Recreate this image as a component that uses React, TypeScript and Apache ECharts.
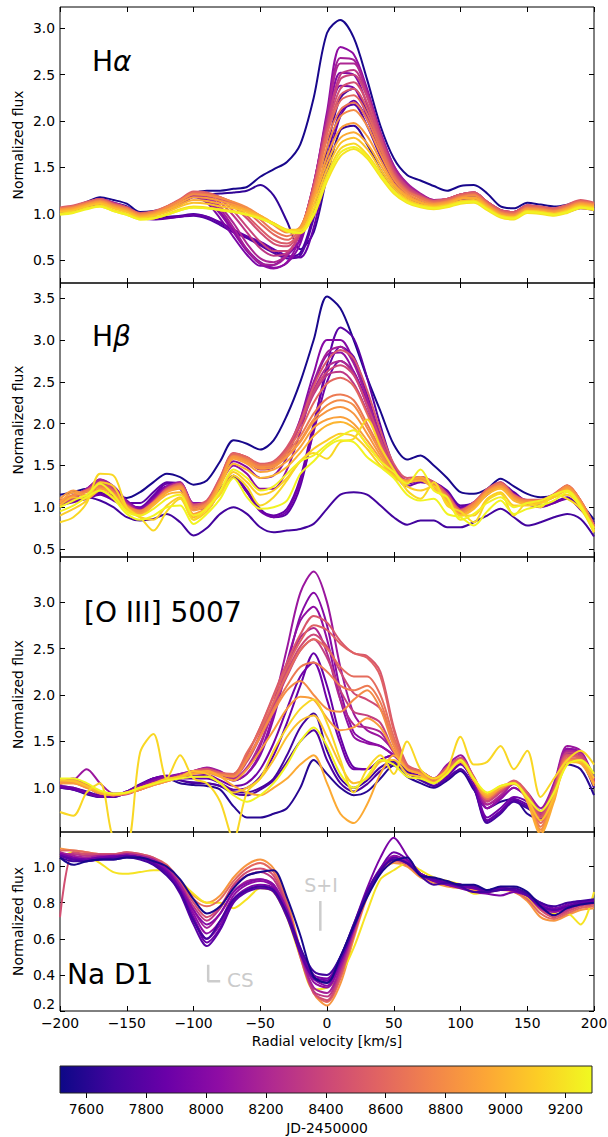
import React, { useEffect, useRef } from 'react';
import * as echarts from 'echarts';

// ---------------- data ----------------
const VELOCITY = [-200, -190, -180, -170, -160, -150, -140, -130, -120, -110, -100, -90, -80, -70, -60, -50, -40, -30, -20, -10, 0, 10, 20, 30, 40, 50, 60, 70, 80, 90, 100, 110, 120, 130, 140, 150, 160, 170, 180, 190, 200];

const HALPHA_JD = [7550, 7640, 7720, 7780, 7850, 7950, 8000, 8050, 8150, 8200, 8300, 8380, 8450, 8520, 8600, 8680, 8800, 8880, 8950, 9050, 9150, 9200, 9260];
const HALPHA_FLUX = [
  [1.06, 1.08, 1.13, 1.18, 1.15, 1.11, 1.02, 1.03, 1.06, 1.12, 1.22, 1.25, 1.25, 1.27, 1.29, 1.40, 1.48, 1.56, 1.75, 2.25, 2.95, 3.09, 2.90, 2.45, 1.95, 1.60, 1.42, 1.36, 1.30, 1.25, 1.30, 1.31, 1.22, 1.08, 1.06, 1.12, 1.10, 1.08, 1.10, 1.14, 1.09],
  [1.04, 1.06, 1.11, 1.16, 1.12, 1.08, 1.00, 1.01, 1.04, 1.10, 1.19, 1.21, 1.22, 1.23, 1.25, 1.31, 1.20, 0.92, 0.62, 0.80, 1.40, 1.90, 1.95, 1.75, 1.48, 1.28, 1.17, 1.12, 1.10, 1.13, 1.18, 1.18, 1.10, 1.02, 1.00, 1.06, 1.04, 1.02, 1.05, 1.08, 1.06],
  [1.03, 1.05, 1.09, 1.13, 1.09, 1.05, 0.98, 0.96, 0.97, 0.98, 1.00, 0.97, 0.90, 0.82, 0.75, 0.68, 0.60, 0.54, 0.58, 1.00, 1.70, 2.25, 2.35, 2.10, 1.72, 1.40, 1.22, 1.13, 1.09, 1.11, 1.17, 1.18, 1.09, 1.01, 1.00, 1.06, 1.04, 1.01, 1.04, 1.08, 1.06],
  [1.02, 1.04, 1.08, 1.12, 1.08, 1.04, 0.97, 0.95, 0.96, 0.97, 0.98, 0.95, 0.88, 0.80, 0.74, 0.66, 0.58, 0.52, 0.55, 0.95, 1.60, 2.10, 2.18, 1.95, 1.62, 1.34, 1.20, 1.12, 1.08, 1.10, 1.16, 1.17, 1.08, 1.00, 0.99, 1.05, 1.03, 1.00, 1.03, 1.07, 1.05],
  [1.01, 1.03, 1.07, 1.11, 1.07, 1.03, 0.96, 0.94, 0.95, 0.97, 0.99, 0.97, 0.91, 0.83, 0.76, 0.70, 0.62, 0.55, 0.53, 0.85, 1.50, 2.05, 2.22, 2.02, 1.66, 1.36, 1.20, 1.11, 1.07, 1.09, 1.15, 1.16, 1.07, 0.99, 0.98, 1.04, 1.02, 0.99, 1.02, 1.06, 1.04],
  [1.03, 1.05, 1.10, 1.15, 1.10, 1.06, 0.99, 1.00, 1.04, 1.10, 1.18, 1.12, 0.95, 0.75, 0.56, 0.44, 0.45, 0.55, 0.72, 1.20, 1.88, 2.38, 2.36, 2.05, 1.70, 1.42, 1.26, 1.17, 1.12, 1.13, 1.19, 1.20, 1.10, 1.01, 1.00, 1.06, 1.04, 1.01, 1.05, 1.09, 1.06],
  [1.04, 1.06, 1.10, 1.15, 1.10, 1.06, 0.99, 1.00, 1.05, 1.11, 1.19, 1.15, 1.02, 0.82, 0.62, 0.48, 0.42, 0.47, 0.68, 1.22, 1.95, 2.52, 2.50, 2.18, 1.78, 1.46, 1.29, 1.19, 1.13, 1.14, 1.19, 1.21, 1.11, 1.02, 1.01, 1.07, 1.05, 1.03, 1.06, 1.11, 1.07],
  [1.04, 1.06, 1.11, 1.16, 1.11, 1.07, 1.00, 1.01, 1.05, 1.12, 1.20, 1.14, 1.00, 0.80, 0.60, 0.46, 0.41, 0.48, 0.75, 1.30, 2.10, 2.80, 2.72, 2.35, 1.88, 1.52, 1.32, 1.21, 1.15, 1.15, 1.20, 1.22, 1.12, 1.03, 1.02, 1.08, 1.06, 1.04, 1.07, 1.12, 1.08],
  [1.05, 1.07, 1.12, 1.16, 1.12, 1.07, 1.00, 1.02, 1.06, 1.13, 1.21, 1.17, 1.05, 0.85, 0.62, 0.47, 0.45, 0.55, 0.80, 1.32, 2.05, 2.68, 2.66, 2.32, 1.88, 1.52, 1.33, 1.22, 1.15, 1.16, 1.21, 1.23, 1.13, 1.04, 1.02, 1.09, 1.07, 1.04, 1.08, 1.13, 1.09],
  [1.05, 1.07, 1.12, 1.16, 1.12, 1.07, 1.00, 1.02, 1.06, 1.14, 1.22, 1.19, 1.08, 0.90, 0.68, 0.52, 0.48, 0.56, 0.80, 1.32, 2.02, 2.62, 2.62, 2.30, 1.86, 1.50, 1.31, 1.21, 1.15, 1.16, 1.21, 1.23, 1.13, 1.04, 1.02, 1.09, 1.07, 1.05, 1.08, 1.13, 1.10],
  [1.05, 1.07, 1.12, 1.16, 1.11, 1.07, 1.00, 1.02, 1.07, 1.14, 1.22, 1.20, 1.12, 0.98, 0.80, 0.63, 0.55, 0.58, 0.80, 1.32, 1.98, 2.50, 2.55, 2.28, 1.85, 1.48, 1.30, 1.20, 1.14, 1.15, 1.20, 1.22, 1.12, 1.03, 1.01, 1.08, 1.06, 1.04, 1.08, 1.13, 1.10],
  [1.06, 1.08, 1.12, 1.16, 1.11, 1.07, 1.00, 1.02, 1.07, 1.15, 1.23, 1.21, 1.15, 1.03, 0.86, 0.70, 0.60, 0.60, 0.80, 1.30, 1.95, 2.45, 2.50, 2.26, 1.84, 1.47, 1.29, 1.20, 1.14, 1.16, 1.21, 1.23, 1.13, 1.04, 1.02, 1.09, 1.07, 1.05, 1.09, 1.14, 1.11],
  [1.06, 1.08, 1.12, 1.15, 1.10, 1.06, 1.00, 1.02, 1.07, 1.15, 1.23, 1.22, 1.17, 1.08, 0.95, 0.80, 0.68, 0.65, 0.82, 1.30, 1.92, 2.35, 2.42, 2.20, 1.80, 1.45, 1.27, 1.19, 1.14, 1.16, 1.21, 1.23, 1.13, 1.04, 1.02, 1.09, 1.07, 1.05, 1.09, 1.14, 1.11],
  [1.07, 1.09, 1.13, 1.16, 1.11, 1.07, 1.01, 1.03, 1.08, 1.16, 1.24, 1.23, 1.18, 1.10, 0.98, 0.84, 0.72, 0.68, 0.82, 1.28, 1.88, 2.28, 2.35, 2.14, 1.76, 1.43, 1.26, 1.18, 1.14, 1.16, 1.21, 1.23, 1.13, 1.04, 1.02, 1.09, 1.08, 1.06, 1.10, 1.15, 1.12],
  [1.06, 1.08, 1.12, 1.15, 1.10, 1.06, 1.00, 1.02, 1.08, 1.15, 1.23, 1.22, 1.18, 1.12, 1.03, 0.90, 0.78, 0.72, 0.84, 1.28, 1.86, 2.22, 2.28, 2.08, 1.74, 1.42, 1.25, 1.18, 1.13, 1.15, 1.20, 1.22, 1.12, 1.03, 1.01, 1.08, 1.07, 1.05, 1.09, 1.14, 1.11],
  [1.06, 1.08, 1.12, 1.15, 1.10, 1.06, 1.00, 1.02, 1.08, 1.15, 1.22, 1.21, 1.18, 1.12, 1.05, 0.94, 0.82, 0.76, 0.85, 1.25, 1.80, 2.12, 2.20, 2.02, 1.70, 1.40, 1.24, 1.17, 1.12, 1.14, 1.19, 1.21, 1.11, 1.02, 1.00, 1.07, 1.06, 1.04, 1.08, 1.13, 1.11],
  [1.05, 1.07, 1.11, 1.14, 1.09, 1.05, 0.99, 1.01, 1.07, 1.14, 1.21, 1.20, 1.17, 1.13, 1.07, 0.98, 0.88, 0.80, 0.86, 1.22, 1.72, 2.05, 2.12, 1.95, 1.65, 1.37, 1.22, 1.15, 1.11, 1.13, 1.18, 1.20, 1.10, 1.01, 0.99, 1.06, 1.05, 1.03, 1.07, 1.12, 1.10],
  [1.04, 1.06, 1.10, 1.13, 1.08, 1.04, 0.98, 1.00, 1.05, 1.12, 1.18, 1.17, 1.14, 1.10, 1.05, 0.98, 0.89, 0.81, 0.85, 1.18, 1.62, 1.92, 1.98, 1.84, 1.58, 1.33, 1.20, 1.13, 1.10, 1.12, 1.17, 1.18, 1.09, 1.00, 0.98, 1.05, 1.04, 1.02, 1.06, 1.11, 1.09],
  [1.03, 1.05, 1.09, 1.12, 1.07, 1.03, 0.97, 0.99, 1.04, 1.10, 1.15, 1.14, 1.11, 1.08, 1.04, 0.98, 0.90, 0.82, 0.84, 1.15, 1.55, 1.82, 1.88, 1.76, 1.53, 1.31, 1.18, 1.12, 1.09, 1.11, 1.16, 1.17, 1.08, 0.99, 0.97, 1.04, 1.03, 1.01, 1.05, 1.10, 1.08],
  [1.02, 1.04, 1.08, 1.11, 1.06, 1.02, 0.96, 0.98, 1.02, 1.08, 1.12, 1.11, 1.08, 1.06, 1.02, 0.97, 0.90, 0.83, 0.83, 1.10, 1.48, 1.76, 1.82, 1.70, 1.48, 1.28, 1.16, 1.10, 1.08, 1.10, 1.14, 1.15, 1.07, 0.98, 0.96, 1.03, 1.02, 1.00, 1.04, 1.09, 1.07],
  [1.00, 1.02, 1.06, 1.09, 1.04, 1.00, 0.95, 0.96, 1.00, 1.05, 1.08, 1.07, 1.05, 1.03, 1.00, 0.96, 0.90, 0.83, 0.82, 1.05, 1.42, 1.70, 1.76, 1.64, 1.44, 1.25, 1.14, 1.09, 1.07, 1.09, 1.13, 1.14, 1.06, 0.98, 0.96, 1.03, 1.02, 1.00, 1.03, 1.08, 1.06],
  [1.00, 1.02, 1.06, 1.08, 1.03, 0.99, 0.94, 0.95, 0.99, 1.04, 1.07, 1.06, 1.04, 1.02, 0.99, 0.95, 0.89, 0.81, 0.79, 0.98, 1.35, 1.62, 1.70, 1.60, 1.40, 1.22, 1.12, 1.07, 1.05, 1.07, 1.11, 1.12, 1.04, 0.96, 0.94, 1.01, 1.00, 0.98, 1.01, 1.06, 1.04],
  [0.99, 1.01, 1.05, 1.08, 1.03, 0.99, 0.94, 0.95, 0.99, 1.04, 1.07, 1.06, 1.04, 1.02, 0.99, 0.95, 0.89, 0.82, 0.80, 1.00, 1.38, 1.66, 1.72, 1.62, 1.42, 1.24, 1.13, 1.08, 1.06, 1.08, 1.12, 1.13, 1.05, 0.97, 0.95, 1.02, 1.01, 0.99, 1.02, 1.07, 1.05],
];

const HBETA_JD = [7550, 7700, 7800, 7850, 7900, 8000, 8050, 8150, 8220, 8300, 8400, 8500, 8600, 8700, 8800, 8850, 8900, 9000, 9100, 9150, 9250, 9270];
const HBETA_FLUX = [
  [1.15, 1.18, 1.22, 1.19, 1.14, 1.11, 1.18, 1.30, 1.40, 1.36, 1.27, 1.32, 1.55, 1.80, 1.76, 1.69, 1.80, 2.10, 2.50, 3.00, 3.52, 3.38, 3.00, 2.55, 2.15, 1.75, 1.57, 1.62, 1.50, 1.35, 1.18, 1.16, 1.22, 1.34, 1.25, 1.16, 1.12, 1.14, 1.22, 1.05, 0.85],
  [1.08, 1.10, 1.12, 1.08, 1.00, 0.88, 0.84, 0.86, 0.92, 0.82, 0.66, 0.75, 0.92, 1.00, 0.92, 0.76, 0.70, 0.72, 0.74, 0.80, 0.98, 1.15, 1.18, 1.15, 1.02, 0.88, 0.79, 0.84, 0.84, 0.76, 0.76, 0.82, 0.90, 0.98, 0.88, 0.78, 0.82, 0.88, 0.92, 0.86, 0.65],
  [1.05, 1.08, 1.12, 1.18, 1.12, 1.05, 1.05, 1.18, 1.30, 1.28, 1.02, 1.00, 1.22, 1.38, 1.20, 0.98, 0.88, 0.92, 1.25, 1.95, 2.70, 3.15, 3.02, 2.55, 1.98, 1.50, 1.30, 1.35, 1.30, 1.20, 1.02, 1.05, 1.18, 1.28, 1.18, 1.06, 1.02, 1.06, 1.12, 0.98, 0.82],
  [1.04, 1.07, 1.11, 1.16, 1.10, 1.02, 1.00, 1.14, 1.28, 1.25, 1.00, 0.99, 1.20, 1.37, 1.18, 0.96, 0.90, 0.98, 1.35, 2.00, 2.62, 2.92, 2.80, 2.35, 1.85, 1.45, 1.28, 1.32, 1.28, 1.18, 1.00, 1.04, 1.16, 1.26, 1.16, 1.05, 1.01, 1.05, 1.11, 0.98, 0.80],
  [1.02, 1.06, 1.10, 1.15, 1.08, 1.00, 0.98, 1.12, 1.25, 1.22, 0.98, 0.98, 1.20, 1.36, 1.18, 0.95, 0.88, 0.95, 1.30, 1.90, 2.50, 2.75, 2.62, 2.25, 1.80, 1.42, 1.25, 1.30, 1.26, 1.15, 0.98, 1.02, 1.15, 1.25, 1.15, 1.04, 1.00, 1.05, 1.10, 0.97, 0.80],
  [1.06, 1.12, 1.22, 1.32, 1.25, 1.08, 0.98, 1.10, 1.25, 1.30, 1.05, 1.05, 1.30, 1.55, 1.48, 1.35, 1.38, 1.60, 2.05, 2.60, 3.00, 3.00, 2.75, 2.30, 1.85, 1.48, 1.32, 1.36, 1.30, 1.18, 0.98, 1.06, 1.20, 1.30, 1.16, 1.08, 1.08, 1.14, 1.22, 1.05, 0.78],
  [1.05, 1.12, 1.22, 1.33, 1.24, 1.06, 0.97, 1.09, 1.24, 1.29, 1.03, 1.04, 1.28, 1.50, 1.40, 1.22, 1.22, 1.45, 1.90, 2.45, 2.82, 2.85, 2.62, 2.22, 1.80, 1.46, 1.31, 1.35, 1.29, 1.17, 0.97, 1.05, 1.19, 1.29, 1.15, 1.08, 1.08, 1.14, 1.23, 1.05, 0.77],
  [1.05, 1.12, 1.22, 1.33, 1.25, 1.06, 0.96, 1.08, 1.24, 1.30, 1.04, 1.06, 1.32, 1.60, 1.55, 1.45, 1.48, 1.68, 2.05, 2.50, 2.85, 2.92, 2.72, 2.30, 1.85, 1.48, 1.32, 1.35, 1.28, 1.15, 0.96, 1.05, 1.20, 1.28, 1.14, 1.08, 1.08, 1.15, 1.24, 1.06, 0.76],
  [1.05, 1.11, 1.21, 1.32, 1.23, 1.05, 0.96, 1.07, 1.23, 1.29, 1.03, 1.06, 1.33, 1.62, 1.56, 1.46, 1.48, 1.66, 2.00, 2.40, 2.68, 2.75, 2.60, 2.22, 1.80, 1.46, 1.31, 1.34, 1.27, 1.14, 0.96, 1.05, 1.19, 1.28, 1.14, 1.08, 1.08, 1.15, 1.24, 1.06, 0.76],
  [1.04, 1.10, 1.20, 1.30, 1.22, 1.04, 0.95, 1.06, 1.22, 1.28, 1.02, 1.05, 1.32, 1.62, 1.58, 1.48, 1.50, 1.68, 1.98, 2.35, 2.58, 2.62, 2.48, 2.15, 1.78, 1.45, 1.30, 1.33, 1.26, 1.13, 0.95, 1.04, 1.18, 1.27, 1.13, 1.07, 1.08, 1.15, 1.25, 1.06, 0.75],
  [1.05, 1.11, 1.20, 1.29, 1.21, 1.03, 0.95, 1.06, 1.22, 1.28, 1.02, 1.07, 1.35, 1.64, 1.60, 1.50, 1.53, 1.70, 2.00, 2.38, 2.62, 2.70, 2.58, 2.22, 1.82, 1.47, 1.32, 1.35, 1.28, 1.14, 0.96, 1.05, 1.20, 1.28, 1.14, 1.08, 1.08, 1.15, 1.25, 1.07, 0.77],
  [1.06, 1.12, 1.20, 1.28, 1.20, 1.03, 0.95, 1.06, 1.22, 1.28, 1.03, 1.08, 1.36, 1.65, 1.60, 1.52, 1.55, 1.72, 2.02, 2.45, 2.75, 2.88, 2.78, 2.40, 1.92, 1.52, 1.35, 1.36, 1.30, 1.16, 0.97, 1.06, 1.22, 1.30, 1.15, 1.09, 1.09, 1.16, 1.26, 1.08, 0.78],
  [1.07, 1.13, 1.20, 1.27, 1.19, 1.02, 0.95, 1.06, 1.21, 1.27, 1.01, 1.06, 1.34, 1.64, 1.60, 1.51, 1.54, 1.68, 1.92, 2.25, 2.48, 2.55, 2.45, 2.12, 1.75, 1.44, 1.31, 1.34, 1.28, 1.14, 0.96, 1.05, 1.21, 1.29, 1.14, 1.08, 1.08, 1.15, 1.26, 1.08, 0.78],
  [1.08, 1.15, 1.20, 1.25, 1.18, 1.02, 0.96, 1.06, 1.20, 1.26, 1.00, 1.05, 1.32, 1.62, 1.58, 1.50, 1.52, 1.65, 1.85, 2.12, 2.30, 2.35, 2.28, 2.00, 1.70, 1.42, 1.30, 1.33, 1.27, 1.13, 0.95, 1.05, 1.20, 1.28, 1.14, 1.08, 1.08, 1.15, 1.26, 1.08, 0.78],
  [1.07, 1.14, 1.18, 1.24, 1.17, 1.01, 0.95, 1.05, 1.19, 1.25, 0.98, 1.04, 1.31, 1.61, 1.56, 1.48, 1.50, 1.62, 1.80, 2.05, 2.22, 2.28, 2.22, 1.95, 1.66, 1.40, 1.30, 1.33, 1.26, 1.12, 0.93, 1.03, 1.19, 1.26, 1.12, 1.07, 1.07, 1.14, 1.25, 1.07, 0.76],
  [1.10, 1.20, 1.15, 1.22, 1.16, 1.00, 0.93, 1.04, 1.18, 1.24, 0.96, 1.02, 1.30, 1.60, 1.54, 1.46, 1.48, 1.60, 1.78, 2.02, 2.15, 2.20, 2.12, 1.88, 1.62, 1.40, 1.31, 1.35, 1.26, 1.11, 0.92, 1.02, 1.18, 1.25, 1.11, 1.06, 1.07, 1.13, 1.24, 1.06, 0.75],
  [1.05, 1.18, 1.12, 1.22, 1.15, 1.00, 0.92, 1.05, 1.18, 1.22, 0.92, 1.00, 1.28, 1.58, 1.52, 1.42, 1.45, 1.55, 1.72, 1.95, 2.05, 2.08, 2.00, 1.80, 1.58, 1.38, 1.32, 1.36, 1.25, 1.10, 0.90, 1.00, 1.18, 1.24, 1.10, 1.05, 1.06, 1.12, 1.22, 1.05, 0.74],
  [1.02, 1.12, 1.10, 1.20, 1.12, 0.98, 0.90, 1.02, 1.15, 1.18, 0.88, 0.98, 1.25, 1.52, 1.45, 1.35, 1.38, 1.48, 1.65, 1.85, 1.98, 2.02, 1.95, 1.75, 1.55, 1.36, 1.30, 1.32, 1.22, 1.08, 0.90, 0.98, 1.15, 1.22, 1.08, 1.04, 1.05, 1.12, 1.20, 1.04, 0.72],
  [0.90, 0.98, 1.08, 1.30, 1.25, 0.98, 0.88, 0.85, 1.02, 1.12, 0.85, 0.95, 1.18, 1.42, 1.30, 1.15, 1.20, 1.35, 1.55, 1.70, 1.80, 1.88, 1.85, 1.70, 1.50, 1.38, 1.25, 1.20, 1.25, 1.05, 0.90, 0.90, 1.10, 1.18, 1.02, 1.02, 1.05, 1.12, 1.15, 1.00, 0.70],
  [0.82, 0.88, 1.05, 1.40, 1.38, 1.00, 0.88, 0.72, 0.95, 1.10, 0.85, 1.00, 1.15, 1.38, 1.25, 1.02, 1.12, 1.32, 1.55, 1.65, 1.58, 1.78, 1.82, 2.05, 1.72, 1.45, 1.20, 1.10, 1.30, 1.02, 0.95, 0.82, 1.08, 1.16, 0.90, 1.05, 1.00, 1.15, 1.10, 0.98, 0.70],
  [1.00, 1.08, 1.15, 1.28, 1.15, 0.95, 0.90, 0.98, 1.10, 1.15, 0.90, 0.98, 1.20, 1.45, 1.35, 1.20, 1.25, 1.40, 1.55, 1.62, 1.75, 1.85, 1.92, 1.75, 1.55, 1.42, 1.28, 1.45, 1.20, 1.12, 0.85, 0.92, 1.05, 1.12, 1.00, 1.05, 1.08, 1.15, 1.20, 1.02, 0.72],
  [0.95, 1.02, 1.12, 1.20, 1.10, 0.92, 0.85, 0.90, 1.00, 1.02, 0.80, 0.92, 1.10, 1.35, 1.12, 0.98, 1.00, 1.08, 1.40, 1.55, 1.72, 1.80, 1.78, 1.60, 1.48, 1.35, 1.15, 1.08, 1.10, 0.92, 0.88, 0.78, 0.95, 1.08, 0.92, 0.98, 1.02, 1.08, 1.18, 1.00, 0.75],
];

const OIII_JD = [7600, 7700, 7750, 7850, 7900, 8000, 8050, 8100, 8200, 8350, 8420, 8500, 8560, 8620, 8700, 8800, 8880, 8950, 9050, 9150, 9270];
const OIII_FLUX = [
  [1.00, 0.98, 0.93, 0.90, 0.90, 0.95, 1.02, 1.08, 1.10, 1.05, 1.03, 1.02, 0.98, 0.80, 0.68, 0.68, 0.72, 0.78, 1.00, 1.30, 1.15, 1.00, 0.92, 0.96, 1.10, 1.24, 1.12, 1.05, 1.00, 1.08, 1.18, 0.98, 0.78, 0.85, 0.88, 0.72, 0.66, 0.95, 1.25, 1.20, 0.92],
  [1.02, 1.00, 0.96, 0.92, 0.92, 0.96, 1.04, 1.10, 1.12, 1.08, 1.05, 1.05, 1.02, 0.96, 0.95, 1.00, 1.10, 1.35, 1.65, 1.80, 1.40, 1.10, 1.00, 1.08, 1.22, 1.28, 1.18, 1.10, 1.02, 1.10, 1.20, 1.00, 0.62, 0.72, 0.85, 0.78, 0.70, 1.00, 1.38, 1.30, 1.00],
  [1.01, 0.99, 0.95, 0.91, 0.91, 0.96, 1.03, 1.10, 1.12, 1.08, 1.06, 1.05, 1.02, 0.94, 0.92, 0.98, 1.08, 1.28, 1.50, 1.62, 1.30, 1.05, 0.96, 1.04, 1.18, 1.26, 1.16, 1.08, 1.02, 1.10, 1.20, 1.00, 0.64, 0.74, 0.86, 0.80, 0.70, 1.00, 1.38, 1.32, 1.02],
  [1.00, 0.98, 0.94, 0.90, 0.90, 0.95, 1.03, 1.10, 1.13, 1.10, 1.10, 1.10, 1.05, 0.98, 1.00, 1.12, 1.35, 1.70, 2.10, 2.45, 2.10, 1.55, 1.22, 1.20, 1.30, 1.35, 1.20, 1.12, 1.05, 1.12, 1.25, 1.05, 0.65, 0.75, 0.88, 0.82, 0.72, 1.00, 1.40, 1.35, 1.05],
  [1.02, 1.00, 0.95, 0.91, 0.91, 0.95, 1.03, 1.10, 1.13, 1.12, 1.13, 1.14, 1.08, 1.02, 1.05, 1.20, 1.48, 1.85, 2.20, 2.35, 1.95, 1.48, 1.20, 1.20, 1.30, 1.35, 1.20, 1.12, 1.05, 1.14, 1.26, 1.05, 0.68, 0.78, 0.90, 0.85, 0.72, 1.00, 1.42, 1.36, 1.05],
  [1.05, 1.10, 1.02, 0.93, 0.92, 0.96, 1.02, 1.08, 1.12, 1.15, 1.18, 1.20, 1.15, 1.08, 1.15, 1.35, 1.75, 2.30, 2.85, 3.10, 2.75, 2.05, 1.60, 1.50, 1.45, 1.35, 1.22, 1.16, 1.08, 1.22, 1.30, 1.08, 0.78, 0.88, 1.00, 0.90, 0.75, 1.02, 1.42, 1.38, 1.08],
  [1.04, 1.08, 1.03, 0.94, 0.92, 0.95, 1.01, 1.07, 1.11, 1.14, 1.17, 1.20, 1.15, 1.08, 1.15, 1.38, 1.80, 2.35, 2.80, 2.95, 2.60, 1.95, 1.55, 1.48, 1.45, 1.35, 1.22, 1.16, 1.08, 1.22, 1.30, 1.08, 0.78, 0.88, 1.00, 0.90, 0.74, 1.02, 1.42, 1.38, 1.08],
  [1.05, 1.08, 1.20, 1.05, 0.94, 0.95, 1.00, 1.06, 1.10, 1.15, 1.18, 1.22, 1.18, 1.10, 1.20, 1.45, 1.90, 2.50, 3.10, 3.33, 3.00, 2.30, 1.80, 1.62, 1.55, 1.40, 1.22, 1.18, 1.10, 1.25, 1.35, 1.10, 0.82, 0.90, 1.05, 0.95, 0.78, 1.05, 1.45, 1.40, 1.10],
  [1.05, 1.07, 1.03, 0.95, 0.93, 0.94, 0.99, 1.05, 1.09, 1.13, 1.18, 1.21, 1.17, 1.10, 1.22, 1.48, 1.85, 2.28, 2.62, 2.72, 2.45, 1.95, 1.68, 1.65, 1.60, 1.38, 1.22, 1.17, 1.09, 1.23, 1.32, 1.10, 0.82, 0.92, 1.04, 0.94, 0.74, 1.02, 1.40, 1.37, 1.08],
  [1.05, 1.06, 1.02, 0.94, 0.92, 0.93, 0.98, 1.04, 1.08, 1.12, 1.18, 1.20, 1.15, 1.12, 1.28, 1.55, 1.88, 2.20, 2.48, 2.60, 2.40, 2.05, 1.82, 1.78, 1.70, 1.40, 1.22, 1.18, 1.10, 1.22, 1.30, 1.10, 0.85, 0.95, 1.05, 0.95, 0.72, 1.00, 1.38, 1.36, 1.08],
  [1.06, 1.07, 1.03, 0.95, 0.93, 0.94, 0.98, 1.04, 1.08, 1.13, 1.18, 1.20, 1.16, 1.13, 1.30, 1.58, 1.92, 2.25, 2.52, 2.65, 2.52, 2.25, 2.02, 1.95, 1.85, 1.50, 1.23, 1.18, 1.10, 1.22, 1.31, 1.11, 0.86, 0.96, 1.06, 0.94, 0.70, 0.99, 1.36, 1.34, 1.07],
  [1.08, 1.08, 1.03, 0.95, 0.93, 0.94, 0.98, 1.04, 1.08, 1.13, 1.18, 1.20, 1.16, 1.15, 1.35, 1.65, 2.00, 2.35, 2.65, 2.85, 2.78, 2.58, 2.45, 2.42, 2.25, 1.65, 1.25, 1.18, 1.10, 1.22, 1.32, 1.12, 0.88, 0.98, 1.08, 0.95, 0.68, 0.98, 1.35, 1.32, 1.05],
  [1.07, 1.07, 1.03, 0.95, 0.93, 0.94, 0.98, 1.04, 1.08, 1.13, 1.17, 1.19, 1.16, 1.15, 1.36, 1.65, 1.98, 2.30, 2.58, 2.75, 2.70, 2.55, 2.45, 2.40, 2.20, 1.62, 1.24, 1.18, 1.09, 1.21, 1.31, 1.11, 0.88, 0.98, 1.07, 0.93, 0.65, 0.96, 1.34, 1.31, 1.05],
  [1.06, 1.06, 1.02, 0.95, 0.93, 0.94, 0.98, 1.04, 1.08, 1.13, 1.17, 1.18, 1.15, 1.15, 1.38, 1.62, 1.92, 2.22, 2.48, 2.60, 2.50, 2.30, 2.20, 2.20, 2.00, 1.55, 1.22, 1.17, 1.08, 1.20, 1.30, 1.10, 0.88, 0.98, 1.06, 0.92, 0.62, 0.95, 1.32, 1.30, 1.05],
  [1.06, 1.06, 1.01, 0.94, 0.92, 0.94, 0.98, 1.03, 1.07, 1.12, 1.16, 1.18, 1.14, 1.13, 1.32, 1.56, 1.85, 2.10, 2.30, 2.35, 2.25, 2.10, 2.05, 2.10, 1.92, 1.50, 1.21, 1.16, 1.07, 1.19, 1.29, 1.09, 0.89, 0.99, 1.05, 0.90, 0.58, 0.92, 1.31, 1.29, 1.05],
  [1.05, 1.05, 1.00, 0.94, 0.92, 0.94, 0.98, 1.03, 1.07, 1.12, 1.16, 1.18, 1.14, 1.12, 1.30, 1.55, 1.82, 2.05, 2.15, 2.00, 1.85, 1.82, 1.95, 2.05, 1.85, 1.45, 1.20, 1.15, 1.06, 1.18, 1.28, 1.08, 0.90, 1.00, 1.05, 0.88, 0.55, 0.90, 1.30, 1.28, 1.05],
  [1.05, 1.05, 1.00, 0.94, 0.92, 0.94, 0.98, 1.03, 1.07, 1.11, 1.15, 1.16, 1.12, 1.08, 1.20, 1.40, 1.62, 1.85, 1.98, 1.95, 1.75, 1.62, 1.65, 1.75, 1.65, 1.40, 1.20, 1.15, 1.06, 1.18, 1.28, 1.08, 0.90, 1.00, 1.05, 0.87, 0.53, 0.88, 1.29, 1.27, 1.04],
  [1.08, 1.08, 1.02, 0.95, 0.93, 0.95, 1.00, 1.05, 1.08, 1.12, 1.15, 1.18, 1.12, 1.02, 0.95, 0.92, 1.00, 1.10, 1.25, 1.35, 1.05, 0.72, 0.62, 0.82, 1.15, 1.35, 1.20, 1.15, 1.05, 1.18, 1.28, 1.08, 0.92, 1.00, 1.05, 0.85, 0.50, 0.85, 1.28, 1.26, 1.02],
  [1.08, 1.07, 1.02, 0.96, 0.93, 0.95, 1.00, 1.05, 1.10, 1.12, 1.18, 1.15, 1.05, 0.95, 1.00, 1.10, 1.30, 1.55, 1.72, 1.78, 1.55, 1.25, 1.05, 1.10, 1.28, 1.30, 1.15, 1.12, 1.05, 1.16, 1.28, 1.10, 0.93, 1.02, 1.05, 0.88, 0.65, 0.90, 1.26, 1.28, 1.10],
  [0.74, 0.70, 0.95, 1.05, 0.45, 0.40, 1.38, 1.58, 1.10, 1.35, 1.10, 1.05, 0.85, 0.45, 0.95, 1.10, 1.40, 1.65, 1.85, 1.95, 1.70, 1.30, 0.95, 1.20, 1.35, 1.15, 1.50, 1.20, 1.10, 1.20, 1.55, 1.25, 1.28, 1.45, 1.20, 1.40, 0.90, 1.10, 1.30, 1.40, 1.25],
  [1.10, 1.10, 1.05, 0.97, 0.94, 0.95, 1.00, 1.04, 1.08, 1.10, 1.12, 1.12, 1.05, 0.92, 0.85, 0.92, 1.05, 1.25, 1.50, 1.65, 1.45, 1.15, 1.00, 1.12, 1.30, 1.25, 1.12, 1.10, 1.05, 1.15, 1.30, 1.10, 0.95, 1.02, 1.05, 0.90, 0.75, 0.95, 1.25, 1.30, 1.15],
];

// drawn in this order (purples and the dark line on top, as in the reference)
const NAD_JD = [8850, 9200, 8600, 8450, 8300, 8150, 8050, 8000, 7950, 7880, 7800, 7700, 7550];
const NAD_FLUX = [
  [1.10, 1.09, 1.08, 1.07, 1.07, 1.07, 1.06, 1.04, 1.00, 0.92, 0.84, 0.80, 0.84, 0.94, 1.01, 1.04, 0.99, 0.82, 0.54, 0.30, 0.23, 0.35, 0.60, 0.83, 0.97, 1.02, 1.00, 0.94, 0.91, 0.89, 0.88, 0.87, 0.86, 0.87, 0.86, 0.81, 0.72, 0.70, 0.73, 0.76, 0.77],
  [1.05, 1.08, 1.06, 1.02, 0.97, 0.96, 0.97, 0.98, 0.98, 0.92, 0.85, 0.80, 0.80, 0.77, 0.82, 0.88, 0.86, 0.72, 0.50, 0.32, 0.33, 0.40, 0.55, 0.75, 0.93, 0.98, 1.02, 0.98, 0.94, 0.92, 0.90, 0.85, 0.86, 0.88, 0.86, 0.83, 0.76, 0.74, 0.74, 0.68, 0.86],
  [1.09, 1.09, 1.08, 1.07, 1.07, 1.08, 1.07, 1.05, 1.01, 0.92, 0.82, 0.78, 0.82, 0.92, 0.99, 1.02, 0.97, 0.80, 0.52, 0.30, 0.25, 0.38, 0.62, 0.84, 0.98, 1.03, 1.01, 0.95, 0.92, 0.90, 0.89, 0.88, 0.86, 0.88, 0.86, 0.82, 0.74, 0.71, 0.74, 0.77, 0.78],
  [0.72, 1.08, 1.07, 1.07, 1.07, 1.08, 1.07, 1.05, 1.00, 0.91, 0.80, 0.72, 0.78, 0.90, 0.97, 0.99, 0.95, 0.78, 0.50, 0.30, 0.26, 0.40, 0.62, 0.84, 0.98, 1.04, 1.02, 0.96, 0.93, 0.90, 0.89, 0.88, 0.86, 0.88, 0.87, 0.84, 0.76, 0.72, 0.75, 0.78, 0.79],
  [1.07, 1.07, 1.06, 1.06, 1.06, 1.07, 1.06, 1.04, 0.99, 0.90, 0.78, 0.70, 0.77, 0.89, 0.95, 0.97, 0.93, 0.77, 0.52, 0.31, 0.28, 0.42, 0.64, 0.85, 0.98, 1.04, 1.02, 0.96, 0.93, 0.90, 0.89, 0.88, 0.86, 0.88, 0.87, 0.84, 0.77, 0.73, 0.76, 0.79, 0.80],
  [1.08, 1.06, 1.05, 1.06, 1.06, 1.07, 1.06, 1.04, 0.99, 0.90, 0.76, 0.66, 0.74, 0.86, 0.92, 0.93, 0.90, 0.75, 0.52, 0.33, 0.30, 0.44, 0.65, 0.85, 0.98, 1.05, 1.02, 0.96, 0.93, 0.91, 0.90, 0.89, 0.87, 0.88, 0.88, 0.85, 0.78, 0.75, 0.77, 0.79, 0.80],
  [1.06, 1.05, 1.04, 1.05, 1.05, 1.06, 1.05, 1.03, 0.98, 0.88, 0.74, 0.63, 0.70, 0.84, 0.90, 0.92, 0.89, 0.74, 0.52, 0.36, 0.33, 0.46, 0.66, 0.86, 0.99, 1.06, 1.03, 0.96, 0.93, 0.91, 0.90, 0.89, 0.87, 0.88, 0.87, 0.84, 0.77, 0.75, 0.77, 0.80, 0.80],
  [1.07, 1.05, 1.04, 1.05, 1.05, 1.06, 1.05, 1.03, 0.98, 0.88, 0.76, 0.68, 0.74, 0.86, 0.91, 0.93, 0.90, 0.76, 0.55, 0.38, 0.34, 0.47, 0.66, 0.85, 0.98, 1.04, 1.02, 0.96, 0.93, 0.91, 0.90, 0.88, 0.87, 0.88, 0.87, 0.84, 0.78, 0.76, 0.78, 0.80, 0.81],
  [1.07, 1.05, 1.04, 1.05, 1.06, 1.06, 1.05, 1.02, 0.97, 0.87, 0.72, 0.60, 0.68, 0.82, 0.88, 0.90, 0.88, 0.74, 0.54, 0.40, 0.38, 0.50, 0.68, 0.88, 1.05, 1.16, 1.06, 0.96, 0.92, 0.90, 0.88, 0.86, 0.85, 0.84, 0.86, 0.84, 0.80, 0.77, 0.79, 0.81, 0.81],
  [1.06, 1.04, 1.04, 1.05, 1.05, 1.06, 1.05, 1.02, 0.97, 0.87, 0.71, 0.58, 0.66, 0.81, 0.87, 0.89, 0.87, 0.73, 0.53, 0.39, 0.37, 0.49, 0.67, 0.86, 0.99, 1.08, 1.04, 0.96, 0.92, 0.91, 0.89, 0.88, 0.86, 0.87, 0.87, 0.84, 0.79, 0.76, 0.78, 0.80, 0.81],
  [1.06, 1.04, 1.03, 1.04, 1.05, 1.06, 1.05, 1.02, 0.96, 0.85, 0.68, 0.56, 0.65, 0.80, 0.86, 0.88, 0.86, 0.72, 0.52, 0.38, 0.36, 0.48, 0.66, 0.84, 0.97, 1.05, 1.02, 0.96, 0.93, 0.91, 0.90, 0.89, 0.86, 0.88, 0.87, 0.84, 0.78, 0.76, 0.78, 0.80, 0.80],
  [1.05, 1.03, 1.03, 1.04, 1.04, 1.05, 1.04, 1.01, 0.95, 0.86, 0.70, 0.60, 0.70, 0.82, 0.87, 0.89, 0.87, 0.74, 0.55, 0.42, 0.40, 0.50, 0.68, 0.86, 0.98, 1.04, 1.02, 0.95, 0.90, 0.91, 0.89, 0.86, 0.86, 0.87, 0.88, 0.85, 0.80, 0.78, 0.80, 0.81, 0.82],
  [1.05, 1.01, 1.03, 1.04, 1.04, 1.05, 1.05, 1.03, 1.00, 0.93, 0.82, 0.74, 0.78, 0.88, 0.95, 0.97, 0.98, 0.83, 0.62, 0.39, 0.355, 0.50, 0.67, 0.83, 0.96, 1.03, 1.05, 0.95, 0.94, 0.92, 0.90, 0.90, 0.87, 0.89, 0.89, 0.86, 0.78, 0.73, 0.77, 0.79, 0.80],
];

// annotation marks in panel 4 (velocity, flux)
const SI_MARK = [[-5, 0.81], [-5, 0.645]];
const CS_MARK = [[-89, 0.457], [-89, 0.365], [-80, 0.365]];

// axes
const HALPHA_YTICKS = [0.5, 1.0, 1.5, 2.0, 2.5, 3.0];
const HBETA_YTICKS = [0.5, 1.0, 1.5, 2.0, 2.5, 3.0, 3.5];
const OIII_YTICKS = [1.0, 1.5, 2.0, 2.5, 3.0];
const NAD_YTICKS = [0.2, 0.4, 0.6, 0.8, 1.0];
const CB_TICKS = [7600, 7800, 8000, 8200, 8400, 8600, 8800, 9000, 9200];
const JD_MIN = 7512;
const JD_MAX = 9289;

const PLASMA = ['#0d0887', '#41049d', '#6a00a8', '#8f0da4', '#b12a90', '#cc4778', '#e16462', '#f2844b', '#fca636', '#fcce25', '#f0f921'];

// ---------------- helpers ----------------
const FONT = "'DejaVu Sans', sans-serif";

function hexToRgb(h: string) {
  const n = parseInt(h.slice(1), 16);
  return [(n >> 16) & 255, (n >> 8) & 255, n & 255];
}
function plasma(t: number) {
  const c = Math.max(0, Math.min(1, t)) * 10;
  const i = Math.min(9, Math.floor(c));
  const f = c - i;
  const a = hexToRgb(PLASMA[i]);
  const b = hexToRgb(PLASMA[i + 1]);
  const r = a.map((v, k) => Math.round(v + (b[k] - v) * f));
  return `rgb(${r[0]},${r[1]},${r[2]})`;
}
const fmtV = (v: number) => (v < 0 ? '\u2212' + Math.abs(v) : String(v));

const LAYOUT = [
  { top: 7, height: 276 },
  { top: 283, height: 274 },
  { top: 557, height: 275 },
  { top: 832, height: 179 },
];

export default function App() {
  const ref = useRef<HTMLDivElement>(null);
  useEffect(() => {
    const chart = echarts.init(ref.current as HTMLDivElement, null, { renderer: 'svg' });
    const panels = [
      { jd: HALPHA_JD, flux: HALPHA_FLUX, min: 0.255, max: 3.23, ticks: HALPHA_YTICKS },
      { jd: HBETA_JD, flux: HBETA_FLUX, min: 0.404, max: 3.683, ticks: HBETA_YTICKS },
      { jd: OIII_JD, flux: OIII_FLUX, min: 0.524, max: 3.486, ticks: OIII_YTICKS },
      { jd: NAD_JD, flux: NAD_FLUX, min: 0.2, max: 1.192, ticks: NAD_YTICKS },
    ];
    const grid: any[] = [];
    const xAxis: any[] = [];
    const yAxis: any[] = [];
    const series: any[] = [];
    const tickLine = { color: '#000', width: 1 };
    panels.forEach((p, i) => {
      grid.push({
        left: 60, width: 534, top: LAYOUT[i].top, height: LAYOUT[i].height,
        show: true, borderColor: '#000', borderWidth: 1, backgroundColor: 'transparent',
        containLabel: false, outerBoundsMode: 'none',
      });
      const xBase = {
        type: 'value', gridIndex: i, min: -200, max: 200, interval: 50,
        splitLine: { show: false }, axisLine: { show: false, onZero: false },
        axisTick: { show: true, inside: true, length: 5, lineStyle: tickLine },
      };
      xAxis.push({
        ...xBase, position: 'bottom',
        axisLabel: { show: i === 3, margin: 5, fontSize: 13.9, fontFamily: FONT, color: '#000', formatter: fmtV },
      });
      xAxis.push({ ...xBase, position: 'top', axisLabel: { show: false } });
      const yBase = {
        type: 'value', gridIndex: i, min: p.min, max: p.max,
        splitLine: { show: false }, axisLine: { show: false, onZero: false },
        axisTick: { show: true, inside: true, length: 5, lineStyle: tickLine, customValues: p.ticks },
      };
      yAxis.push({
        ...yBase, position: 'left',
        axisLabel: {
          show: true, customValues: p.ticks, margin: 5, fontSize: 13.9, fontFamily: FONT, color: '#000',
          formatter: (v: number) => v.toFixed(1),
          verticalAlignMinLabel: i === 3 ? 'bottom' : undefined,
        },
      });
      yAxis.push({ ...yBase, position: 'right', axisLabel: { show: false } });
      p.flux.forEach((arr, k) => {
        series.push({
          type: 'line', xAxisIndex: 2 * i, yAxisIndex: 2 * i,
          data: VELOCITY.map((v, j) => [v, arr[j]]),
          showSymbol: false, symbol: 'none', smooth: 0.3, silent: true, clip: true,
          lineStyle: { width: 2, color: plasma((p.jd[k] - JD_MIN) / (JD_MAX - JD_MIN)) },
        });
      });
    });

    // annotations on Na D1 panel
    [SI_MARK, CS_MARK].forEach((m) => {
      series.push({
        type: 'line', xAxisIndex: 6, yAxisIndex: 6, data: m, showSymbol: false, symbol: 'none',
        silent: true, z: 5, lineStyle: { width: 2.5, color: '#cccccc' },
      });
    });

    // colour bar
    grid.push({ left: 60, width: 532, top: 1066, height: 27, show: false, containLabel: false, outerBoundsMode: 'none' });
    xAxis.push({
      type: 'value', gridIndex: 4, min: JD_MIN, max: JD_MAX, position: 'bottom',
      splitLine: { show: false }, axisLine: { show: false, onZero: false },
      axisTick: { show: true, inside: false, length: 5, customValues: CB_TICKS, lineStyle: tickLine },
      axisLabel: {
        show: true, customValues: CB_TICKS, margin: 9, fontSize: 13.9, fontFamily: FONT, color: '#000',
        formatter: (v: number) => String(v),
      },
    });
    yAxis.push({ type: 'value', gridIndex: 4, min: 0, max: 1, show: false });
    series.push({
      type: 'custom', xAxisIndex: 8, yAxisIndex: 8, silent: true,
      data: [[JD_MIN, JD_MAX]],
      renderItem: (params: any, api: any) => {
        const a = api.coord([api.value(0), 1]);
        const b = api.coord([api.value(1), 0]);
        return {
          type: 'rect',
          shape: { x: a[0], y: a[1], width: b[0] - a[0], height: b[1] - a[1] },
          style: {
            fill: new echarts.graphic.LinearGradient(0, 0, 1, 0, PLASMA.map((c, i) => ({ offset: i / 10, color: c }))),
            stroke: '#222', lineWidth: 1,
          },
        };
      },
    });

    const gray = '#cbcbcb';
    const elements: any[] = [
      {
        type: 'text', x: 92, y: 61,
        style: { text: '{r|H}{i|α}', rich: { r: { fontSize: 28, fontFamily: FONT }, i: { fontSize: 28, fontFamily: FONT, fontStyle: 'italic' } }, fill: '#000', verticalAlign: 'middle' },
      },
      {
        type: 'text', x: 92, y: 336,
        style: { text: '{r|H}{i|β}', rich: { r: { fontSize: 28, fontFamily: FONT }, i: { fontSize: 28, fontFamily: FONT, fontStyle: 'italic' } }, fill: '#000', verticalAlign: 'middle' },
      },
      { type: 'text', x: 84, y: 612, style: { text: '[O III] 5007', fontSize: 28, fontFamily: FONT, fill: '#000', verticalAlign: 'middle' } },
      { type: 'text', x: 67, y: 974, style: { text: 'Na D1', fontSize: 28, fontFamily: FONT, fill: '#000', verticalAlign: 'middle' } },
      { type: 'text', x: 321, y: 885, style: { text: 'S+I', fontSize: 19, fontFamily: FONT, fill: gray, align: 'center', verticalAlign: 'middle' } },
      { type: 'text', x: 227, y: 980, style: { text: 'CS', fontSize: 20, fontFamily: FONT, fill: gray, verticalAlign: 'middle' } },
      { type: 'text', x: 327, y: 1041, style: { text: 'Radial velocity [km/s]', fontSize: 13.9, fontFamily: FONT, fill: '#000', align: 'center', verticalAlign: 'middle' } },
      { type: 'text', x: 327, y: 1128, style: { text: 'JD-2450000', fontSize: 13.9, fontFamily: FONT, fill: '#000', align: 'center', verticalAlign: 'middle' } },
    ];
    LAYOUT.forEach((l) => {
      elements.push({
        type: 'text', x: 18, y: l.top + l.height / 2, rotation: Math.PI / 2,
        style: { text: 'Normalized flux', fontSize: 13.9, fontFamily: FONT, fill: '#000', align: 'center', verticalAlign: 'middle' },
      });
    });

    chart.setOption({
      animation: false,
      backgroundColor: '#fff',
      grid, xAxis, yAxis, series,
      graphic: { elements },
    });
    return () => chart.dispose();
  }, []);
  return <div ref={ref} style={{ position: 'absolute', left: 0, top: 0, width: 608, height: 1137 }} />;
}
